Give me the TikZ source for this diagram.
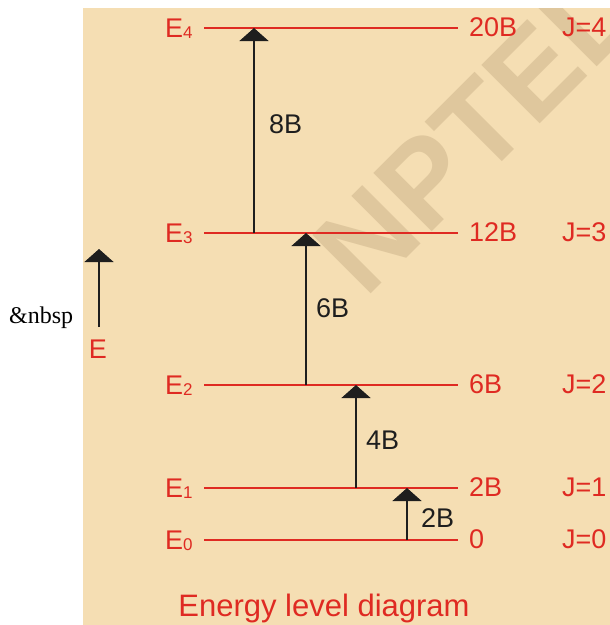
\documentclass[tikz,border=0pt]{standalone}
\usepackage{fontspec}
\setmainfont{Liberation Sans}
\newfontfamily\timesfont{Liberation Serif}
\usetikzlibrary{arrows.meta}
\definecolor{wheatbg}{HTML}{F5DEB3}
\definecolor{lvlred}{HTML}{DF2A22}
\definecolor{wmtan}{HTML}{DFC79D}
\definecolor{inkdk}{HTML}{1E1E1E}
\newcommand{\Elab}[1]{E\raisebox{-1pt}{\fontsize{17}{17}\selectfont #1}}
\tikzset{
  panel/.style      = {fill=wheatbg, draw=none},
  wmark/.style      = {text=wmtan, font=\fontsize{120}{120}\selectfont\bfseries,
                       rotate=45, inner sep=0pt},
  level/.style      = {draw=lvlred, line width=1.1pt},
  lvllabel/.style   = {text=lvlred, font=\fontsize{27}{30}\selectfont,
                       inner sep=0pt, anchor=base west},
  trans/.style      = {draw=inkdk, line width=1.4pt,
                       -{Triangle[width=29pt, length=13pt]}},
  translabel/.style = {text=inkdk, font=\fontsize{27}{30}\selectfont,
                       inner sep=0pt, anchor=west},
  caption/.style    = {text=lvlred, font=\fontsize{31}{34}\selectfont,
                       inner sep=0pt, anchor=base},
}
\begin{document}
\begin{tikzpicture}[x=1pt, y=-1pt]
  \useasboundingbox (0,0) rectangle (610,625);
  \path[panel] (83,8) rectangle (610,625);
  \begin{scope}
    \clip (83,8) rectangle (610,625);
    \node[wmark] (wm) at (475,131) {NPTEL};
  \end{scope}
  % energy levels
  \coordinate (l4w) at (204,28);
  \coordinate (l4e) at (458,28);
  \coordinate (l3w) at (204,233);
  \coordinate (l3e) at (458,233);
  \coordinate (l2w) at (204,385);
  \coordinate (l2e) at (458,385);
  \coordinate (l1w) at (204,488);
  \coordinate (l1e) at (458,488);
  \coordinate (l0w) at (204,540);
  \coordinate (l0e) at (458,540);
  \draw[level] (l4w) -- (l4e);
  \draw[level] (l3w) -- (l3e);
  \draw[level] (l2w) -- (l2e);
  \draw[level] (l1w) -- (l1e);
  \draw[level] (l0w) -- (l0e);
  \node[lvllabel] (n4) at (165,37) {\Elab{4}};
  \node[lvllabel] (n3) at (165,242) {\Elab{3}};
  \node[lvllabel] (n2) at (165,394) {\Elab{2}};
  \node[lvllabel] (n1) at (165,497) {\Elab{1}};
  \node[lvllabel] (n0) at (165,549) {\Elab{0}};
  \node[lvllabel] (v4) at (469,36) {20B};
  \node[lvllabel] (v3) at (469,241) {12B};
  \node[lvllabel] (v2) at (469,393) {6B};
  \node[lvllabel] (v1) at (469,496) {2B};
  \node[lvllabel] (v0) at (469,548) {0};
  \node[lvllabel] (j4) at (562,36) {J=4};
  \node[lvllabel] (j3) at (562,241) {J=3};
  \node[lvllabel] (j2) at (562,393) {J=2};
  \node[lvllabel] (j1) at (562,496) {J=1};
  \node[lvllabel] (j0) at (562,548) {J=0};
  % transitions
  \coordinate (t8s) at (254,233);
  \coordinate (t8e) at (254,28);
  \coordinate (t6s) at (306,385);
  \coordinate (t6e) at (306,233);
  \coordinate (t4s) at (356,488);
  \coordinate (t4e) at (356,385);
  \coordinate (t2s) at (407,540);
  \coordinate (t2e) at (407,488);
  \draw[trans] (t8s) -- (t8e);
  \draw[trans] (t6s) -- (t6e);
  \draw[trans] (t4s) -- (t4e);
  \draw[trans] (t2s) -- (t2e);
  \node[translabel] (d8) at (269,124) {8B};
  \node[translabel] (d6) at (316,308) {6B};
  \node[translabel] (d4) at (366,440) {4B};
  \node[translabel] (d2) at (421,518) {2B};
  % energy axis
  \coordinate (ax0) at (99,327);
  \coordinate (ax1) at (99,249);
  \draw[trans] (ax0) -- (ax1);
  \node[lvllabel, anchor=base] (axlab) at (98,358) {E};
  \node[font=\timesfont\fontsize{24}{26}\selectfont, inner sep=0pt,
        anchor=base west] (nb) at (9,323) {\&nbsp};
  \node[caption] (cap) at (324,616) {Energy level diagram};
\end{tikzpicture}
\end{document}
